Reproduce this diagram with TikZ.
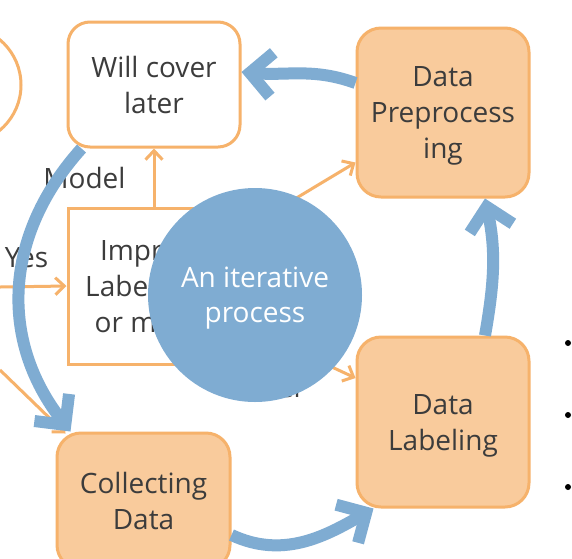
\documentclass[tikz,border=0pt]{standalone}
\usepackage{fontspec}
\setmainfont{Open Sans}
\usetikzlibrary{positioning,arrows.meta}
\definecolor{boxorange}{RGB}{246,178,107}
\definecolor{boxfill}{RGB}{249,203,156}
\definecolor{loopblue}{RGB}{127,172,210}
\definecolor{textgray}{RGB}{60,60,60}
\tikzset{
  slidetext/.style={text=textgray,font=\fontsize{28}{36}\selectfont,
                    align=center,text depth=0pt},
  stagebox/.style={slidetext,draw=boxorange,fill=boxfill,line width=3pt,
                   rounded corners=24pt,minimum width=172pt},
  laterbox/.style={stagebox,fill=white,rounded corners=22pt},
  edgelabel/.style={text=textgray,font=\fontsize{28}{36}\selectfont,inner sep=2pt},
  flowarrow/.style={draw=boxorange,line width=3pt,
                    -{Straight Barb[length=9pt,width=17pt]}},
  cyclearrow/.style={draw=loopblue,line width=12pt,
                     -{Straight Barb[length=22pt,width=44pt]}}
}
\begin{document}
\begin{tikzpicture}[x=1pt,y=1pt]
  \useasboundingbox (0,0) rectangle (572,-558);
  \clip (0,0) rectangle (572,-558);
  \fill[white] (0,0) rectangle (572,-558);

  % decision node, mostly off the slide
  \draw[boxorange,line width=3pt] (-38,-85) circle[radius=59];

  \node[laterbox,minimum height=125pt] (later) at (154,-84.5) {Will cover\\later};
  \node[stagebox,minimum height=169pt] (prep) at (443,-112.5)
    {Data\\Preprocess\\ing};
  \node[stagebox,minimum height=170pt] (labeling) at (443,-422) {Data\\Labeling};
  \node[stagebox,minimum width=173pt,minimum height=136pt] (collect)
    at (143.5,-501) {Collecting\\Data};
  \node[slidetext,draw=boxorange,fill=white,line width=3pt,
        minimum width=172pt,minimum height=156pt] (improve)
    at (154,-286) {Improve\\Label and/\\or model};

  \coordinate (yesin) at (0,-287);
  \coordinate (noin) at (0,-370);

  \draw[flowarrow] (improve.north) -- node[edgelabel,left=25pt]{Model} (later.south);
  \draw[flowarrow] (yesin) -- node[edgelabel,pos=0.4,above=15pt]{Yes} (improve.west);
  \draw[flowarrow] (noin) -- ([shift={(10pt,-2pt)}]collect.north west);
  \draw[flowarrow] ([yshift=55pt]improve.east) -- ([yshift=-50pt]prep.west);
  \draw[flowarrow] ([yshift=-39pt]improve.east) -- ([yshift=44pt]labeling.west);
  \node[edgelabel,anchor=base east] (labeltag) at (303,-397) {Label};

  \node[circle,fill=loopblue,minimum size=214pt,text=white,align=center,
        font=\fontsize{28}{35}\selectfont,text depth=0pt] (iter)
    at (255,-295) {An iterative\\process};

  % the cycle
  \draw[cyclearrow] ([yshift=29.5pt]prep.west) to[out=160,in=-5]
    ([yshift=12.5pt]later.east);
  \draw[cyclearrow] ([xshift=15pt]later.south west)
    to[out=228,in=128,looseness=1.05] ([xshift=15pt]collect.north west);
  \draw[cyclearrow] ([yshift=-34pt]collect.east) to[out=-25,in=210]
    ([xshift=18pt]labeling.south west);
  \draw[cyclearrow] ([xshift=42pt]labeling.north) to[out=80,in=-78]
    ([xshift=42pt]prep.south);

  \foreach \yb in {343,415,487}
    \fill[black] (568,-\yb) circle[radius=3];
\end{tikzpicture}
\end{document}
